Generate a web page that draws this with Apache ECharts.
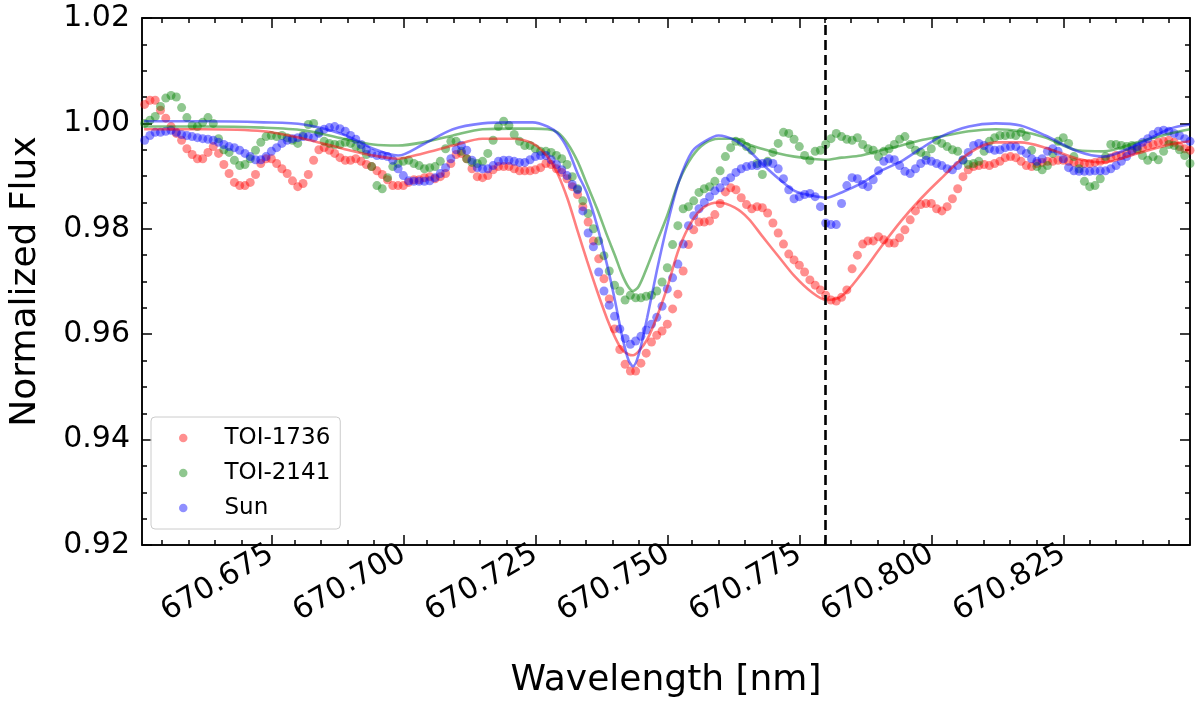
<!DOCTYPE html>
<html>
<head>
<meta charset="utf-8">
<script src="https://cdn.jsdelivr.net/npm/echarts@6/dist/echarts.min.js"></script>
<style>
html,body{margin:0;padding:0;background:#fff;}
#chart{width:1200px;height:707px;}
</style>
</head>
<body>
<div id="chart"></div>
<script>
// ---------------- data ----------------
const wavelength = [
670.651,670.652,670.653,670.654,670.655,670.656,670.657,670.658,670.659,670.660,
670.661,670.662,670.663,670.664,670.665,670.666,670.667,670.668,670.669,670.670,
670.671,670.672,670.673,670.674,670.675,670.676,670.677,670.678,670.679,670.680,
670.681,670.682,670.683,670.684,670.685,670.686,670.687,670.688,670.689,670.690,
670.691,670.692,670.693,670.694,670.695,670.696,670.697,670.698,670.699,670.700,
670.701,670.702,670.703,670.704,670.705,670.706,670.707,670.708,670.709,670.710,
670.711,670.712,670.713,670.714,670.715,670.716,670.717,670.718,670.719,670.720,
670.721,670.722,670.723,670.724,670.725,670.726,670.727,670.728,670.729,670.730,
670.731,670.732,670.733,670.734,670.735,670.736,670.737,670.738,670.739,670.740,
670.741,670.742,670.743,670.744,670.745,670.746,670.747,670.748,670.749,670.750,
670.751,670.752,670.753,670.754,670.755,670.756,670.757,670.758,670.759,670.760,
670.761,670.762,670.763,670.764,670.765,670.766,670.767,670.768,670.769,670.770,
670.771,670.772,670.773,670.774,670.775,670.776,670.777,670.778,670.779,670.780,
670.781,670.782,670.783,670.784,670.785,670.786,670.787,670.788,670.789,670.790,
670.791,670.792,670.793,670.794,670.795,670.796,670.797,670.798,670.799,670.800,
670.801,670.802,670.803,670.804,670.805,670.806,670.807,670.808,670.809,670.810,
670.811,670.812,670.813,670.814,670.815,670.816,670.817,670.818,670.819,670.820,
670.821,670.822,670.823,670.824,670.825,670.826,670.827,670.828,670.829,670.830,
670.831,670.832,670.833,670.834,670.835,670.836,670.837,670.838,670.839,670.840,
670.841,670.842,670.843,670.844,670.845,670.846,670.847,670.848,670.849
];

const fluxTOI1736 = [
1.0036,1.0044,1.0044,1.0025,1.0010,0.9994,0.9981,0.9968,0.9952,0.9941,
0.9933,0.9933,0.9945,0.9956,0.9943,0.9922,0.9905,0.9888,0.9882,0.9882,
0.9888,0.9903,0.9924,0.9933,0.9933,0.9924,0.9914,0.9905,0.9891,0.9880,
0.9886,0.9903,0.9930,0.9950,0.9954,0.9949,0.9943,0.9935,0.9930,0.9930,
0.9933,0.9928,0.9922,0.9918,0.9910,0.9903,0.9893,0.9882,0.9882,0.9882,
0.9888,0.9893,0.9893,0.9897,0.9899,0.9895,0.9899,0.9905,0.9924,0.9941,
0.9943,0.9933,0.9914,0.9899,0.9897,0.9901,0.9912,0.9918,0.9918,0.9918,
0.9914,0.9910,0.9910,0.9910,0.9912,0.9916,0.9924,0.9922,0.9914,0.9907,
0.9895,0.9880,0.9865,0.9842,0.9813,0.9777,0.9743,0.9705,0.9667,0.9610,
0.9571,0.9543,0.9530,0.9530,0.9545,0.9564,0.9585,0.9598,0.9606,0.9619,
0.9648,0.9676,0.9720,0.9770,0.9798,0.9813,0.9813,0.9815,0.9827,0.9848,
0.9870,0.9878,0.9874,0.9859,0.9846,0.9838,0.9842,0.9840,0.9830,0.9811,
0.9792,0.9771,0.9752,0.9741,0.9731,0.9718,0.9703,0.9693,0.9684,0.9674,
0.9665,0.9663,0.9670,0.9684,0.9724,0.9750,0.9771,0.9777,0.9777,0.9785,
0.9779,0.9773,0.9773,0.9783,0.9798,0.9817,0.9834,0.9846,0.9848,0.9848,
0.9838,0.9834,0.9842,0.9857,0.9876,0.9899,0.9912,0.9918,0.9920,0.9922,
0.9920,0.9924,0.9928,0.9935,0.9937,0.9935,0.9928,0.9920,0.9918,0.9924,
0.9926,0.9928,0.9928,0.9930,0.9930,0.9928,0.9926,0.9924,0.9924,0.9924,
0.9926,0.9928,0.9931,0.9935,0.9939,0.9939,0.9943,0.9949,0.9950,0.9954,
0.9958,0.9960,0.9964,0.9966,0.9968,0.9964,0.9956,0.9952,0.9949
];

const fluxTOI2141 = [
1.0000,1.0006,1.0013,1.0032,1.0048,1.0053,1.0050,1.0030,1.0011,0.9996,
0.9994,1.0002,1.0011,1.0000,0.9971,0.9950,0.9945,0.9930,0.9920,0.9922,
0.9933,0.9949,0.9964,0.9975,0.9977,0.9975,0.9977,0.9973,0.9968,0.9962,
0.9977,0.9998,1.0000,0.9983,0.9966,0.9962,0.9960,0.9960,0.9964,0.9962,
0.9956,0.9952,0.9941,0.9918,0.9882,0.9876,0.9897,0.9918,0.9924,0.9928,
0.9930,0.9924,0.9920,0.9914,0.9916,0.9918,0.9928,0.9952,0.9966,0.9966,
0.9947,0.9933,0.9926,0.9924,0.9928,0.9943,0.9968,0.9994,1.0004,0.9996,
0.9979,0.9966,0.9958,0.9958,0.9952,0.9947,0.9947,0.9945,0.9939,0.9933,
0.9922,0.9899,0.9876,0.9853,0.9829,0.9800,0.9777,0.9749,0.9720,0.9693,
0.9682,0.9665,0.9674,0.9669,0.9669,0.9672,0.9674,0.9682,0.9699,0.9726,
0.9770,0.9806,0.9838,0.9842,0.9853,0.9869,0.9876,0.9880,0.9890,0.9910,
0.9937,0.9954,0.9966,0.9964,0.9956,0.9949,0.9924,0.9903,0.9928,0.9945,
0.9962,0.9983,0.9981,0.9970,0.9956,0.9939,0.9930,0.9947,0.9949,0.9960,
0.9971,0.9981,0.9975,0.9970,0.9968,0.9973,0.9960,0.9952,0.9949,0.9937,
0.9947,0.9952,0.9960,0.9970,0.9975,0.9960,0.9949,0.9945,0.9939,0.9952,
0.9968,0.9962,0.9956,0.9950,0.9947,0.9930,0.9922,0.9924,0.9928,0.9947,
0.9966,0.9973,0.9977,0.9977,0.9979,0.9977,0.9983,0.9975,0.9949,0.9918,
0.9912,0.9920,0.9943,0.9966,0.9973,0.9962,0.9937,0.9914,0.9890,0.9880,
0.9882,0.9895,0.9937,0.9960,0.9960,0.9958,0.9956,0.9958,0.9952,0.9939,
0.9930,0.9937,0.9931,0.9947,0.9960,0.9958,0.9950,0.9939,0.9924
];

const fluxSun = [
0.9968,0.9977,0.9983,0.9983,0.9985,0.9987,0.9983,0.9979,0.9977,0.9975,
0.9973,0.9971,0.9970,0.9968,0.9964,0.9960,0.9956,0.9954,0.9949,0.9943,
0.9937,0.9931,0.9931,0.9937,0.9947,0.9954,0.9962,0.9968,0.9971,0.9973,
0.9975,0.9975,0.9973,0.9981,0.9989,0.9992,0.9994,0.9990,0.9985,0.9977,
0.9970,0.9960,0.9950,0.9943,0.9939,0.9939,0.9937,0.9930,0.9914,0.9901,
0.9891,0.9890,0.9890,0.9890,0.9891,0.9897,0.9905,0.9916,0.9933,0.9950,
0.9958,0.9949,0.9930,0.9916,0.9914,0.9914,0.9920,0.9928,0.9930,0.9930,
0.9928,0.9926,0.9926,0.9931,0.9937,0.9939,0.9939,0.9931,0.9922,0.9912,
0.9901,0.9884,0.9874,0.9834,0.9792,0.9766,0.9718,0.9682,0.9655,0.9634,
0.9610,0.9592,0.9581,0.9587,0.9596,0.9608,0.9619,0.9632,0.9653,0.9686,
0.9707,0.9733,0.9771,0.9806,0.9825,0.9838,0.9850,0.9861,0.9872,0.9878,
0.9890,0.9897,0.9907,0.9914,0.9918,0.9920,0.9920,0.9924,0.9926,0.9924,
0.9914,0.9895,0.9874,0.9857,0.9861,0.9865,0.9867,0.9861,0.9842,0.9811,
0.9808,0.9808,0.9848,0.9882,0.9897,0.9895,0.9884,0.9880,0.9893,0.9910,
0.9928,0.9933,0.9931,0.9920,0.9909,0.9905,0.9914,0.9924,0.9930,0.9928,
0.9924,0.9920,0.9914,0.9912,0.9920,0.9931,0.9945,0.9958,0.9962,0.9958,
0.9952,0.9949,0.9950,0.9954,0.9956,0.9956,0.9949,0.9943,0.9933,0.9928,
0.9933,0.9947,0.9952,0.9947,0.9933,0.9916,0.9910,0.9909,0.9909,0.9909,
0.9910,0.9910,0.9910,0.9914,0.9920,0.9928,0.9937,0.9947,0.9956,0.9964,
0.9971,0.9979,0.9985,0.9987,0.9985,0.9981,0.9977,0.9971,0.9966
];

// model (fit) curves
const modelWave = [
670.6509,670.6622,670.6735,670.6811,670.6886,670.6943,670.6990,670.7037,670.7094,670.7150,
670.7207,670.7245,670.7273,670.7292,670.7311,670.7330,670.7348,670.7367,670.7386,670.7401,
670.7414,670.7426,670.7435,670.7446,670.7462,670.7480,670.7499,670.7522,670.7547,670.7571,
670.7597,670.7628,670.7654,670.7679,670.7711,670.7741,670.7773,670.7801,670.7830,670.7867,
670.7905,670.7943,670.7980,670.8018,670.8071,670.8122,670.8169,670.8216,670.8277,670.8326,
670.8390,670.8452,670.8490
];
const modelTOI1736 = [
0.9989,0.9989,0.9985,0.9971,0.9952,0.9939,0.9933,0.9943,0.9958,0.9971,
0.9971,0.9962,0.9937,0.9905,0.9857,0.9796,0.9739,0.9682,0.9629,0.9594,
0.9571,0.9562,0.9560,0.9568,0.9590,0.9632,0.9686,0.9762,0.9815,0.9842,
0.9850,0.9840,0.9819,0.9787,0.9747,0.9710,0.9680,0.9665,0.9672,0.9714,
0.9766,0.9815,0.9857,0.9895,0.9943,0.9964,0.9964,0.9954,0.9933,0.9926,
0.9943,0.9960,0.9966
];
const modelTOI2141 = [
0.9994,0.9994,0.9992,0.9987,0.9971,0.9960,0.9958,0.9964,0.9977,0.9989,
0.9990,0.9990,0.9989,0.9983,0.9962,0.9928,0.9884,0.9838,0.9787,0.9749,
0.9714,0.9690,0.9682,0.9691,0.9728,0.9775,0.9823,0.9890,0.9937,0.9962,
0.9971,0.9971,0.9960,0.9952,0.9943,0.9937,0.9933,0.9931,0.9935,0.9939,
0.9949,0.9958,0.9968,0.9975,0.9985,0.9989,0.9985,0.9973,0.9949,0.9947,
0.9964,0.9981,0.9989
];
const modelSun = [
1.0004,1.0004,1.0002,0.9998,0.9979,0.9952,0.9939,0.9960,0.9989,1.0000,
1.0002,1.0002,0.9994,0.9981,0.9952,0.9905,0.9867,0.9806,0.9731,0.9663,
0.9598,0.9552,0.9539,0.9562,0.9632,0.9720,0.9804,0.9890,0.9947,0.9966,
0.9977,0.9968,0.9949,0.9924,0.9895,0.9872,0.9863,0.9859,0.9869,0.9886,
0.9910,0.9928,0.9952,0.9975,0.9994,1.0000,0.9996,0.9977,0.9947,0.9937,
0.9960,0.9990,0.9998
];

const seriesNames = ['TOI-1736', 'TOI-2141', 'Sun'];
const lithiumLine = 670.7797;
const xTicks = [670.675, 670.700, 670.725, 670.750, 670.775, 670.800, 670.825];
const xMinorTicks = [670.655,670.660,670.665,670.670,670.680,670.685,670.690,670.695,
  670.705,670.710,670.715,670.720,670.730,670.735,670.740,670.745,670.755,670.760,670.765,670.770,
  670.780,670.785,670.790,670.795,670.805,670.810,670.815,670.820,670.830,670.835,670.840,670.845];
const yTicks = [0.92, 0.94, 0.96, 0.98, 1.00, 1.02];

// ---------------- chart ----------------
const FONT = 'DejaVu Sans';
const X_MIN = 670.6505, X_MAX = 670.849;
const zip = (xs, ys) => xs.map((x, i) => [x, ys[i]]);

const dotColors = ['rgba(255,0,0,0.55)', 'rgba(0,128,0,0.55)', 'rgba(0,0,255,0.55)'];
const lineColors = ['rgba(255,0,0,0.5)', 'rgba(0,128,0,0.5)', 'rgba(0,0,255,0.5)'];
const obs = [fluxTOI1736, fluxTOI2141, fluxSun];
const mod = [modelTOI1736, modelTOI2141, modelSun];

const series = [];
obs.forEach((ys, k) => {
  series.push({
    name: seriesNames[k], type: 'scatter', data: zip(wavelength, ys),
    symbol: 'circle', symbolSize: 9,
    itemStyle: { color: dotColors[k] }, z: 2, silent: true
  });
});
mod.forEach((ys, k) => {
  series.push({
    name: seriesNames[k] + ' model', type: 'line', data: zip(modelWave, ys),
    smooth: 0.3, showSymbol: false, symbol: 'none',
    lineStyle: { color: lineColors[k], width: 2.6 }, z: 3, silent: true
  });
});
series[series.length - 1].markLine = {
  silent: true, symbol: 'none', animation: false,
  label: { show: false },
  lineStyle: { color: '#000', width: 2.6, type: [10, 5] },
  data: [{ xAxis: lithiumLine }]
};

const tickStyle = { color: '#000', width: 1.5 };
const baseX = {
  type: 'value', min: X_MIN, max: X_MAX, splitLine: { show: false },
  axisLine: { show: true, onZero: false, lineStyle: tickStyle }
};
const baseY = {
  type: 'value', min: 0.92, max: 1.02, interval: 0.02, splitLine: { show: false },
  axisLine: { show: true, onZero: false, lineStyle: tickStyle },
  minorTick: { show: true, splitNumber: 4, length: 5, lineStyle: tickStyle }
};

const option = {
  animation: false,
  backgroundColor: '#fff',
  textStyle: { fontFamily: FONT },
  grid: [
    { left: 138, right: 10, top: 18, bottom: 162, show: true, borderColor: '#000', borderWidth: 1.5 },
    { left: 138, right: 10, top: 18, bottom: 162 }
  ],
  legend: {
    data: seriesNames, orient: 'vertical', left: 151, top: 417,
    icon: 'circle', itemWidth: 8.5, itemHeight: 8.5, itemGap: 9,
    padding: [8, 10, 8, 28],
    backgroundColor: 'rgba(255,255,255,0.8)', borderColor: '#cccccc', borderWidth: 1, borderRadius: 4,
    formatter: name => '{gap| }' + name,
    textStyle: { fontSize: 23, color: '#000', fontFamily: FONT, lineHeight: 26,
      rich: { gap: { width: 32, fontSize: 23, lineHeight: 26 } } }
  },
  xAxis: [
    Object.assign({}, baseX, {
      gridIndex: 0, position: 'bottom',
      axisTick: { show: true, inside: true, length: 10, lineStyle: tickStyle, customValues: xTicks },
      axisLabel: { show: true, customValues: xTicks, formatter: v => v.toFixed(3), rotate: 30,
        fontSize: 30, color: '#000', fontFamily: FONT, margin: 7 },
      name: 'Wavelength [nm]', nameLocation: 'middle', nameGap: 118,
      nameTextStyle: { fontSize: 36, color: '#000', fontFamily: FONT }
    }),
    Object.assign({}, baseX, {
      gridIndex: 0, position: 'top',
      axisTick: { show: true, inside: true, length: 10, lineStyle: tickStyle, customValues: xTicks },
      axisLabel: { show: false }
    }),
    Object.assign({}, baseX, {
      gridIndex: 1, position: 'bottom',
      axisLine: { show: false },
      axisTick: { show: true, inside: true, length: 5, lineStyle: tickStyle, customValues: xMinorTicks },
      axisLabel: { show: false }
    }),
    Object.assign({}, baseX, {
      gridIndex: 1, position: 'top',
      axisLine: { show: false },
      axisTick: { show: true, inside: true, length: 5, lineStyle: tickStyle, customValues: xMinorTicks },
      axisLabel: { show: false }
    })
  ],
  yAxis: [
    Object.assign({}, baseY, {
      gridIndex: 0, position: 'left',
      axisTick: { show: true, inside: true, length: 10, lineStyle: tickStyle },
      axisLabel: { show: true, formatter: v => v.toFixed(2), fontSize: 30, color: '#000',
        fontFamily: FONT, margin: 12, customValues: yTicks },
      name: 'Normalized Flux', nameLocation: 'middle', nameGap: 98,
      nameTextStyle: { fontSize: 36, color: '#000', fontFamily: FONT }
    }),
    Object.assign({}, baseY, {
      gridIndex: 0, position: 'right',
      axisTick: { show: true, inside: true, length: 10, lineStyle: tickStyle },
      axisLabel: { show: false }
    }),
    { type: 'value', gridIndex: 1, min: 0.92, max: 1.02, show: false }
  ],
  series: series
};

const chart = echarts.init(document.getElementById('chart'), null, { renderer: 'canvas' });
chart.setOption(option);
</script>
</body>
</html>
